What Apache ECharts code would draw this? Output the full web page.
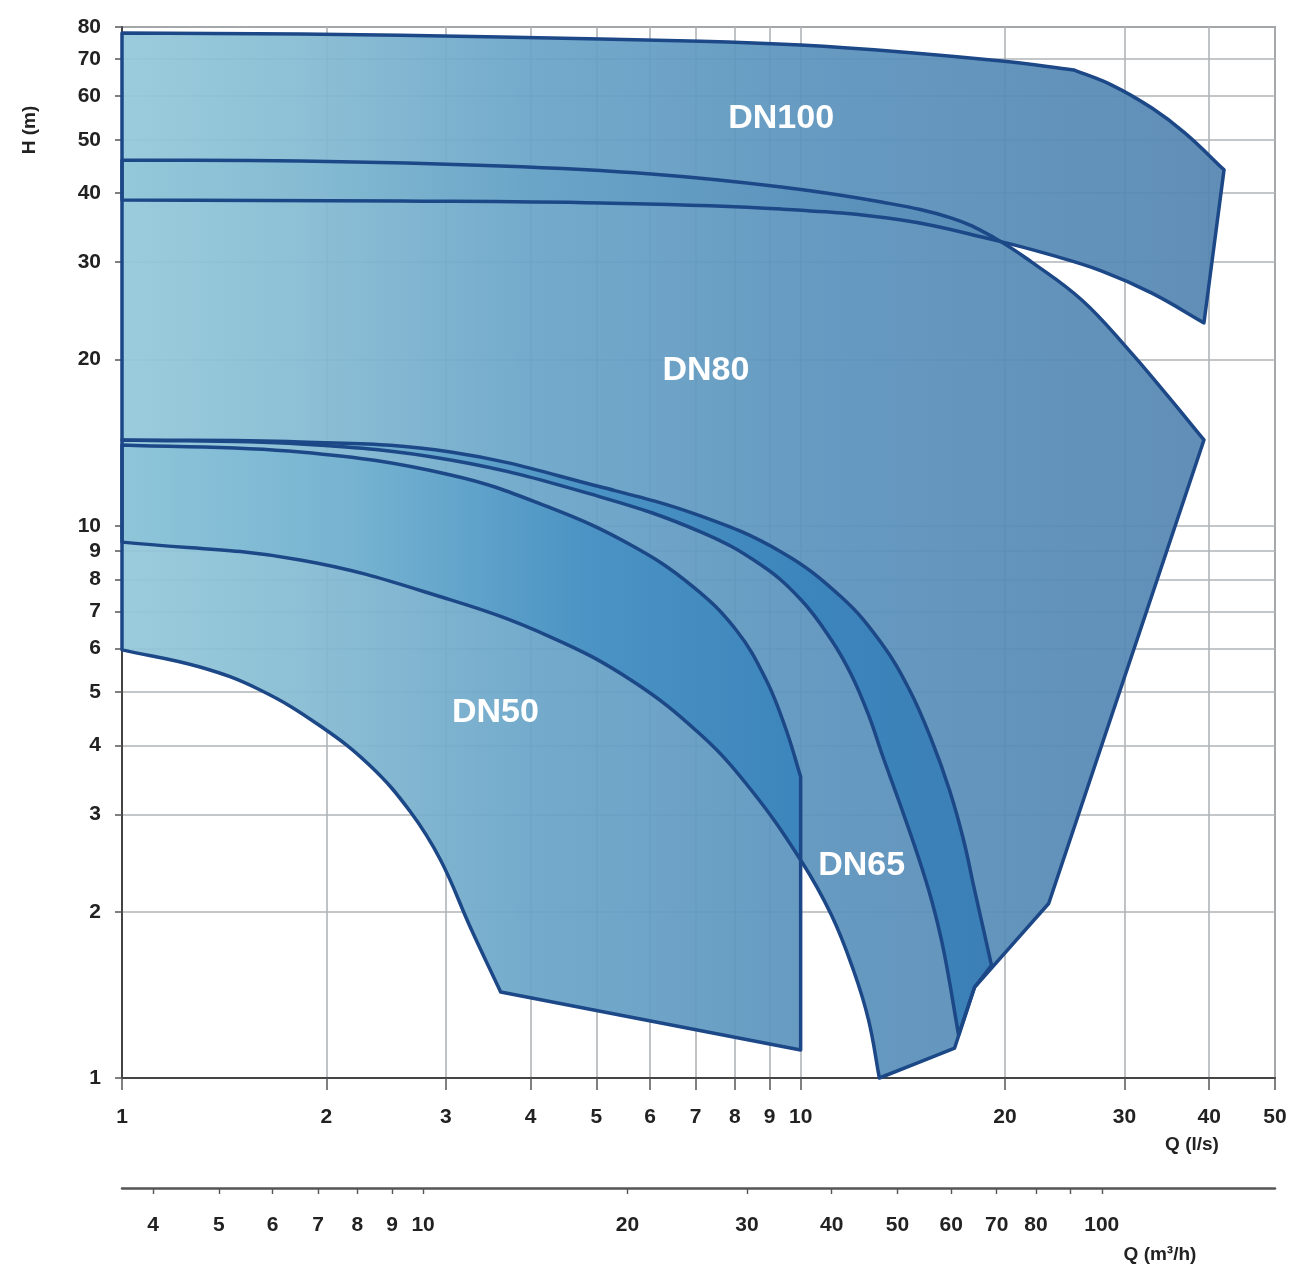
<!DOCTYPE html>
<html><head><meta charset="utf-8">
<script src="https://cdn.jsdelivr.net/npm/echarts@6/dist/echarts.min.js"></script>
<style>html,body{margin:0;padding:0;background:#fff}#c{width:1292px;height:1271px}</style>
</head><body><div id="c"></div>
<script>
// ---- tick values ----
const qTicks = [1,2,3,4,5,6,7,8,9,10,20,30,40,50];
const hTicks = [1,2,3,4,5,6,7,8,9,10,20,30,40,50,60,70,80];
const m3hTicks = [4,5,6,7,8,9,10,20,30,40,50,60,70,80,90,100];
const m3hLabels = [4,5,6,7,8,9,10,20,30,40,50,60,70,80,100];

// ---- boundary curves, [Q (l/s), H (m)] ----
const dn100Top = [[1,78],[1.831,77.7],[3.614,76.7],[7.134,75.4],[10,74.2],[14.08,72.1],[19.78,69.4],[25.26,66.9]];
const dn100Shoulder = [[25.26,66.9],[28.74,62.8],[32.93,57.06],[36.85,51.4],[42.06,44.1]];
const dn100Bottom = [[1,38.9],[2.573,38.72],[5.079,38.4],[9.362,37.45],[14.08,35.77],[19.31,32.9],[23.44,30.9],[27.79,28.92],[32.93,26.38],[39.29,23.3]];
const dn80Top = [[1,45.9],[1.831,45.75],[3.614,44.81],[6.02,43.35],[9.362,41.06],[13.15,38.56],[16.69,36.07],[19.31,33.2],[21.9,30.02],[25.96,25.63],[30.45,20.8],[34.65,17.25],[39.29,14.3]];
const dn80Right = [[23.2,2.07],[18.04,1.46]];
const dn80Bottom = [[1,14.3],[1.831,14.06],[3.05,13.15],[5.079,11.27],[7.134,9.741],[8.746,8.488],[10.02,7.337],[11.1,6.21],[11.88,5.367],[12.59,4.543],[13.24,3.797],[13.94,3.187],[14.82,2.567],[15.59,2.101],[16.24,1.705],[17.09,1.197]];
const dn65Top = [[1,14.3],[1.831,14.18],[3.05,13.6],[5.079,11.75],[7.134,10.41],[9.362,8.964],[11.48,7.429],[13.15,6.133],[14.47,5.042],[15.59,4.093],[16.57,3.323],[17.38,2.698],[18.04,2.19],[18.6,1.854],[19.11,1.6]];
const dn65Foot = [[18.04,1.46],[16.86,1.133]];
const dn65Bottom = [[1,9.34],[1.831,8.67],[3.05,7.34],[4.283,6.287],[5.622,5.256],[7.134,4.178],[8.456,3.323],[10,2.481],[11.1,1.973],[11.96,1.569],[12.59,1.274],[13.06,1.0]];
const dn50Top = [[1,14.0],[1.831,13.6],[3.05,12.36],[4.283,10.77],[5.622,9.228],[6.895,7.808],[8.034,6.474],[8.897,5.256],[9.522,4.267],[10,3.51]];
const dn50Foot = [[10,1.124]];
const dn50Lower = [[1,5.96],[1.303,5.549],[1.598,5.042],[1.96,4.339],[2.323,3.672],[2.662,3.031],[2.947,2.481],[3.264,1.869],[3.614,1.431]];

const regionNames = ['DN100','DN80','DN65','DN50'];
const regionLabelPos = [[9.36,54.7],[7.25,19.1],[12.3,2.42],[3.55,4.58]];

// ---- polygons built from the curves: {c: smooth curve} or {k: corner points} ----
const rev = a => a.slice().reverse();
const polyDN100 = [{c:dn100Top},{c:dn100Shoulder},{c:rev(dn100Bottom)}];
const polyDN80 = [{c:dn80Top},{k:dn80Right},{c:rev(dn80Bottom)}];
const polyDN65 = [{c:dn65Top},{k:dn65Foot},{c:rev(dn65Bottom)}];
const polyDN50 = [{c:dn50Top},{k:dn50Foot},{c:rev(dn50Lower)}];
const polyO1 = [{c:dn50Top},{c:rev(dn65Bottom.filter(p => p[0] <= 10))}];
const polyO2 = [{c:dn65Top},{k:[dn65Foot[0]]},{c:rev(dn80Bottom)}];

// duplicate corner points so the spline keeps sharp corners
function toPixels(poly, api){
  const out = [];
  poly.forEach(seg => {
    if (seg.c) {
      const px = seg.c.map(p => api.coord(p));
      out.push(px[0]); px.forEach(p => out.push(p)); out.push(px[px.length-1]);
    } else {
      seg.k.forEach(p => { const q = api.coord(p); out.push(q); out.push(q); });
    }
  });
  return out;
}
function flatPts(poly){
  const a = [];
  poly.forEach(seg => (seg.c || seg.k).forEach(p => a.push(p)));
  return a;
}

const FONT = '"Liberation Sans", Arial, sans-serif';
const chart = echarts.init(document.getElementById('c'), null, {renderer:'canvas'});

function grad(api, stops){
  const x0 = api.coord([1,1])[0], x1 = api.coord([50,1])[0];
  return new echarts.graphic.LinearGradient(x0,0,x1,0,stops,true);
}
const baseStops = [
  {offset:0,color:'#93c8da'},{offset:0.15,color:'#86bcd3'},{offset:0.35,color:'#6aa5c8'},
  {offset:0.6,color:'#5b93bd'},{offset:0.8,color:'#578bb6'},{offset:1,color:'#5484af'}];
const overStops = [
  {offset:0,color:'#8ec5d9'},{offset:0.2,color:'#76b3d1'},{offset:0.4,color:'#4a93c4'},
  {offset:0.6,color:'#3a84bc'},{offset:0.8,color:'#3a7db5'},{offset:1,color:'#3a7ab2'}];

const SMOOTH = 0.4;
function fillSeries(poly, stops, op){
  const pts = flatPts(poly);
  return {type:'custom', coordinateSystem:'cartesian2d', xAxisIndex:0, yAxisIndex:0, silent:true, z:2,
    data: pts,
    renderItem:(params, api) => {
      if (params.dataIndex !== 0) return;
      return {type:'polygon', shape:{points: toPixels(poly, api), smooth:SMOOTH},
        style:{fill: grad(api, stops), opacity: op}};
    }};
}
function strokeSeries(poly){
  const pts = flatPts(poly);
  return {type:'custom', coordinateSystem:'cartesian2d', xAxisIndex:0, yAxisIndex:0, silent:true, z:4,
    data: pts,
    renderItem:(params, api) => {
      if (params.dataIndex !== 0) return;
      return {type:'polygon', shape:{points: toPixels(poly, api), smooth:SMOOTH},
        style:{fill:'none', stroke:'#1c4887', lineWidth:3.5, lineJoin:'round'}};
    }};
}

const fmt = v => String(Math.round(v*1000)/1000);

chart.setOption({
  animation:false,
  backgroundColor:'#ffffff',
  grid:{left:122, right:17, top:27, bottom:193, show:true, borderColor:'#555', borderWidth:1.5, backgroundColor:'transparent'},
  xAxis:[
    {type:'log', logBase:10, min:1, max:50, position:'bottom',
     axisLine:{show:true, onZero:false, lineStyle:{color:'#444', width:2}},
     axisTick:{show:true, customValues:qTicks, length:12, lineStyle:{color:'#555', width:1.5}},
     axisLabel:{customValues:qTicks, margin:29, fontSize:21, fontWeight:'bold', color:'#222', fontFamily:FONT, formatter:fmt},
     splitLine:{show:true, lineStyle:{color:'#b0b4b8', width:1.6}},
     minorTick:{show:false}, minorSplitLine:{show:false}},
    {type:'log', logBase:10, min:3.6, max:180, position:'bottom', offset:110,
     axisLine:{show:true, onZero:false, lineStyle:{color:'#555', width:2.5}},
     axisTick:{show:true, customValues:m3hTicks, length:6, lineStyle:{color:'#555', width:1.4}},
     axisLabel:{customValues:m3hLabels, margin:27, fontSize:21, fontWeight:'bold', color:'#222', fontFamily:FONT, formatter:fmt},
     splitLine:{show:false}}
  ],
  yAxis:{type:'log', logBase:10, min:1, max:80,
     axisLine:{show:true, onZero:false, lineStyle:{color:'#444', width:2}},
     axisTick:{show:true, customValues:hTicks, length:7, lineStyle:{color:'#555', width:1.5}},
     axisLabel:{customValues:hTicks, margin:21, fontSize:21, fontWeight:'bold', color:'#222', fontFamily:FONT, formatter:fmt},
     splitLine:{show:true, lineStyle:{color:'#b0b4b8', width:1.6}}},
  graphic:[
    {type:'text', x:30, y:130, rotation:Math.PI/2, style:{text:'H (m)', font:'bold 19px '+FONT, fill:'#222', align:'center', verticalAlign:'middle'}},
    {type:'text', x:1192, y:1145, style:{text:'Q (l/s)', font:'bold 19px '+FONT, fill:'#222', align:'center', verticalAlign:'middle'}},
    {type:'text', x:1160, y:1255, style:{text:'Q (m³/h)', font:'bold 19px '+FONT, fill:'#222', align:'center', verticalAlign:'middle'}}
  ],
  series:[
    fillSeries(polyDN100, baseStops, 0.93),
    fillSeries(polyDN80, baseStops, 0.93),
    fillSeries(polyDN65, baseStops, 0.93),
    fillSeries(polyDN50, baseStops, 0.93),
    fillSeries(polyO1, overStops, 0.95),
    fillSeries(polyO2, overStops, 0.95),
    strokeSeries(polyDN100),
    strokeSeries(polyDN80),
    strokeSeries(polyDN65),
    strokeSeries(polyDN50),
    {type:'scatter', xAxisIndex:0, yAxisIndex:0, silent:true, z:6, symbolSize:0,
     itemStyle:{opacity:1},
     data: regionNames.map((n,i) => ({name:n, value:regionLabelPos[i]})),
     label:{show:true, position:'inside', formatter:'{b}', color:'#ffffff', opacity:1, fontSize:34, fontWeight:'bold', fontFamily:FONT}}
  ]
});
</script></body></html>
